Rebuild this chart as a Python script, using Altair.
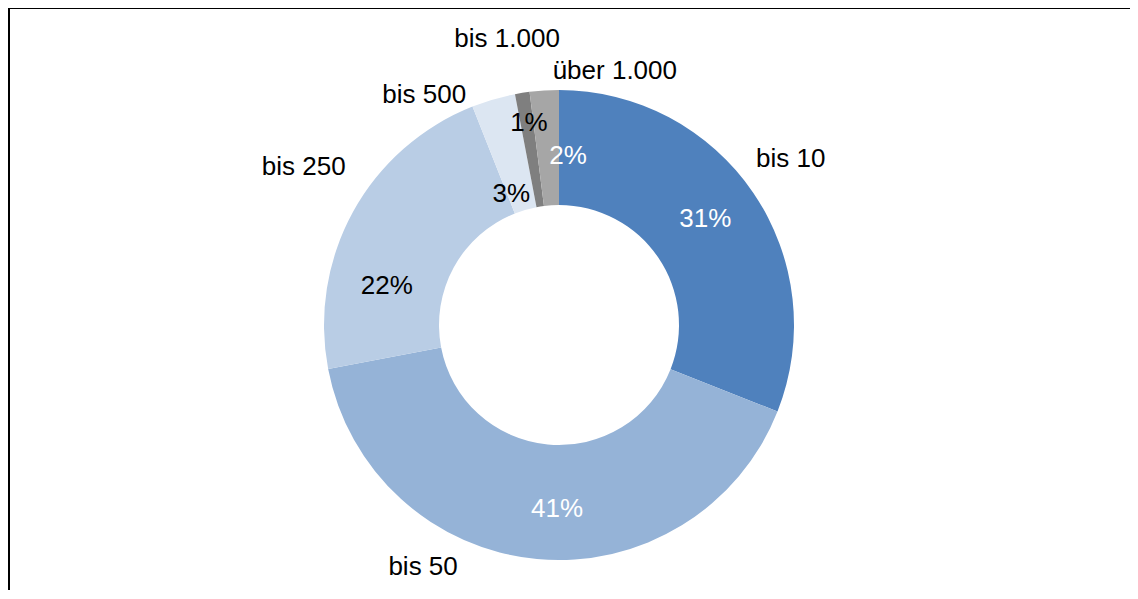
import math
import altair as alt
import pandas as pd

# ---- data ----
categories = ["bis 10", "bis 50", "bis 250", "bis 500", "bis 1.000", "über 1.000"]
shares = [31, 41, 22, 3, 1, 2]
pct_labels = ["31%", "41%", "22%", "3%", "1%", "2%"]

# ---- styles ----
slice_colors = ["#4F81BD", "#95B3D7", "#B9CDE5", "#DCE6F2", "#7F7F7F", "#A6A6A6"]
pct_label_colors = ["white", "white", "black", "black", "black", "white"]

# ---- label layout (degrees clockwise from top, radius in px) ----
value_label_angle = [53.5, 180.6, 283.4, 340.2, 351.6, 3.0]
value_label_radius = [182, 182, 177, 141, 206, 171]
cat_label_angle = [54.1, 209.5, 302.0, 329.8, 349.8, 12.3]
cat_label_radius = [286, 276, 301, 268, 293, 262]

FONT = "Liberation Sans"
FS = 26

df = pd.DataFrame({
    "category": categories,
    "share": shares,
    "pct": pct_labels,
    "ord": list(range(len(categories))),
    "pct_color": pct_label_colors,
    "v_ang": value_label_angle,
    "v_rad": value_label_radius,
    "c_ang": cat_label_angle,
    "c_rad": cat_label_radius,
})

arcs = alt.Chart(df).mark_arc(innerRadius=120, outerRadius=235).encode(
    theta=alt.Theta("share:Q", stack=True,
                    scale=alt.Scale(domain=[0, 100], range=[0, 2 * math.pi])),
    color=alt.Color("category:N",
                    scale=alt.Scale(domain=categories, range=slice_colors),
                    legend=None),
    order=alt.Order("ord:Q"),
)

value_labels = alt.Chart(df).mark_text(
    font=FONT, fontSize=FS, align="center", baseline="middle", dy=2
).encode(
    theta=alt.Theta("v_ang:Q", stack=False,
                    scale=alt.Scale(domain=[0, 360], range=[0, 2 * math.pi])),
    radius=alt.Radius("v_rad:Q", scale=None),
    text=alt.Text("pct:N"),
    color=alt.Color("pct_color:N", scale=None),
)

cat_labels = alt.Chart(df).mark_text(
    font=FONT, fontSize=FS, align="center", baseline="middle", color="black", dy=2
).encode(
    theta=alt.Theta("c_ang:Q", stack=False,
                    scale=alt.Scale(domain=[0, 360], range=[0, 2 * math.pi])),
    radius=alt.Radius("c_rad:Q", scale=None),
    text=alt.Text("category:N"),
)

one = pd.DataFrame({"k": [0]})
frame_left = alt.Chart(one).mark_rule(color="black", strokeWidth=2).encode(
    x=alt.value(1), y=alt.value(-82), y2=alt.value(500)
)
frame_top = alt.Chart(one).mark_rule(color="black", strokeWidth=1).encode(
    x=alt.value(0), x2=alt.value(1122), y=alt.value(-81.5)
)

chart = alt.layer(arcs, value_labels, cat_labels, frame_left, frame_top).resolve_scale(
    theta="independent", color="independent", radius="independent"
).properties(
    width=1102,
    height=470,
    padding={"left": 0, "top": 82, "right": 20, "bottom": 30},
    autosize=alt.AutoSizeParams(type="none"),
).configure_view(stroke=None)

chart.save("out.html", embed_options={"renderer": "svg", "actions": False})
